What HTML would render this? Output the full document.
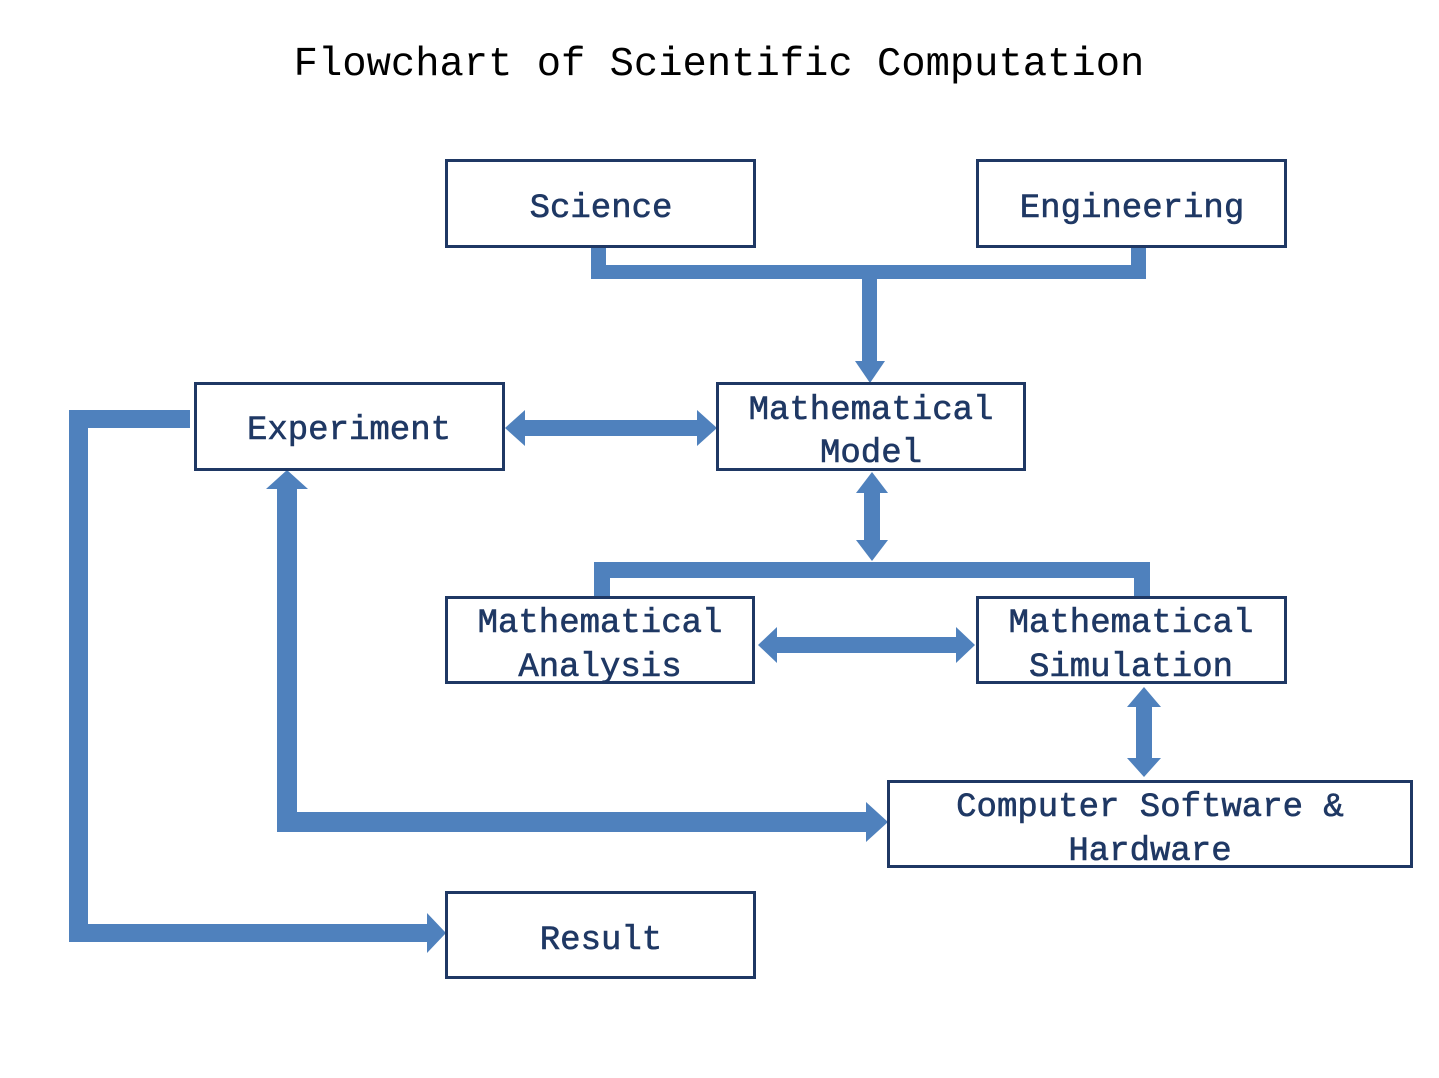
<!DOCTYPE html>
<html><head><meta charset="utf-8"><style>
html,body{margin:0;padding:0;background:#fff;}
svg{display:block;}
text{font-family:"Liberation Mono","Noto Sans CJK SC",monospace;}
.l{font-size:34px;fill:#1f3864;stroke:#1f3864;stroke-width:0.6;text-anchor:middle;}
.b{fill:#fff;stroke:#1f3864;stroke-width:3;}
.c{fill:#4f81bd;}
</style></head><body>
<svg width="1439" height="1078" viewBox="0 0 1439 1078" xmlns="http://www.w3.org/2000/svg">
<text x="719" y="75" style="font-size:40.5px;fill:#000;text-anchor:middle;">Flowchart of Scientific Computation</text>

<rect class="c" x="591" y="247" width="15" height="32"/>
<rect class="c" x="1131" y="247" width="15" height="32"/>
<rect class="c" x="591" y="265" width="555" height="14"/>
<rect class="c" x="862" y="279" width="15" height="86"/>
<polygon class="c" points="855,361 885,361 870,383"/>

<rect class="c" x="520" y="420" width="182" height="16"/>
<polygon class="c" points="505,428 525,410 525,446"/>
<polygon class="c" points="717,428 697,410 697,446"/>

<rect class="c" x="864" y="488" width="16" height="56"/>
<polygon class="c" points="872,472 856,493 888,493"/>
<polygon class="c" points="872,561 856,540 888,540"/>
<rect class="c" x="594" y="562" width="556" height="16"/>
<rect class="c" x="594" y="562" width="16" height="35"/>
<rect class="c" x="1134" y="562" width="16" height="35"/>

<rect class="c" x="774" y="637" width="185" height="16"/>
<polygon class="c" points="758,645 777,627 777,663"/>
<polygon class="c" points="975,645 956,627 956,663"/>

<rect class="c" x="1136" y="704" width="16" height="58"/>
<polygon class="c" points="1144,687 1127,707 1161,707"/>
<polygon class="c" points="1144,777 1127,758 1161,758"/>

<rect class="c" x="277" y="812" width="595" height="20"/>
<polygon class="c" points="888,822 866,802 866,842"/>
<rect class="c" x="277" y="486" width="20" height="346"/>
<polygon class="c" points="287,470 266,489 308,489"/>

<rect class="c" x="69" y="410" width="121" height="18"/>
<rect class="c" x="69" y="410" width="19" height="532"/>
<rect class="c" x="69" y="924" width="364" height="18"/>
<polygon class="c" points="446,933 427,913 427,953"/>

<rect class="b" x="446.5" y="160.5" width="308" height="86"/>
<text class="l" x="601" y="217">Science</text>
<rect class="b" x="977.5" y="160.5" width="308" height="86"/>
<text class="l" x="1132" y="217">Engineering</text>
<rect class="b" x="717.5" y="383.5" width="307" height="86"/>
<text class="l" x="871" y="419">Mathematical</text>
<text class="l" x="871" y="462">Model</text>
<rect class="b" x="195.5" y="383.5" width="308" height="86"/>
<text class="l" x="349" y="439">Experiment</text>
<rect class="b" x="446.5" y="597.5" width="307" height="85"/>
<text class="l" x="600" y="632">Mathematical</text>
<text class="l" x="600" y="676">Analysis</text>
<rect class="b" x="977.5" y="597.5" width="308" height="85"/>
<text class="l" x="1131" y="632">Mathematical</text>
<text class="l" x="1131" y="676">Simulation</text>
<rect class="b" x="888.5" y="781.5" width="523" height="85"/>
<text class="l" x="1150" y="816">Computer Software &amp;</text>
<text class="l" x="1150" y="860">Hardware</text>
<rect class="b" x="446.5" y="892.5" width="308" height="85"/>
<text class="l" x="601" y="949">Result</text>
</svg>
</body></html>
